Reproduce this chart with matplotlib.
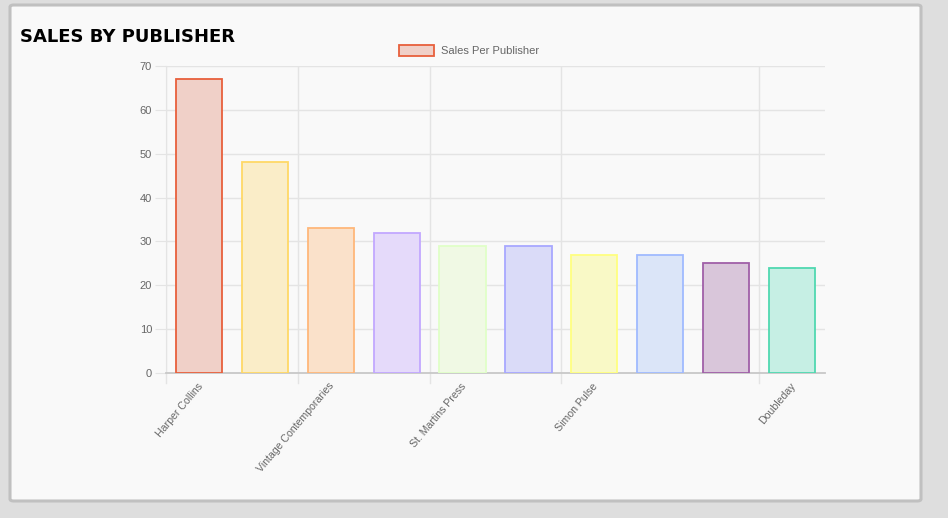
import matplotlib
matplotlib.use("Agg")
import matplotlib.pyplot as plt
from matplotlib.patches import FancyBboxPatch, Rectangle
import numpy as np

# data (only every other publisher name is printed)
publishers = ["Harper Collins", "", "Vintage Contemporaries", "", "St. Martins Press",
              "", "Simon Pulse", "", "", "Doubleday"]
sales = [67, 48, 33, 32, 29, 29, 27, 27, 25, 24]
shown_ticks = [0, 2, 4, 6, 9]
series_name = "Sales Per Publisher"

edge_colors = ["#e8603c", "#ffd866", "#ffb77a", "#c2a8ff", "#e0ffc8",
               "#a8a8ff", "#ffff80", "#a0baff", "#a060a8", "#50d8b0"]
fill_colors = ["#f0d0c8", "#faedc8", "#fae1ca", "#e5dafa", "#f0f9e4",
               "#dadbf8", "#f9f9c6", "#dbe5f8", "#d9c6da", "#c6efe4"]

W, H = 948, 518
fig = plt.figure(figsize=(W / 100, H / 100), dpi=100)
fig.patch.set_facecolor("#dedede")

# card behind the chart
card = FancyBboxPatch((10 / W, 1 - 501 / H), 911 / W, 496 / H,
                      boxstyle="round,pad=0,rounding_size=0.004",
                      transform=fig.transFigure, facecolor="#f9f9f9",
                      edgecolor="#c0c0c0", linewidth=2.2, zorder=-5)
fig.patches.append(card)

fig.text(20 / W, 1 - 42 / H, "SALES BY PUBLISHER", fontsize=13.0, fontweight="bold",
         color="black", family="DejaVu Sans", ha="left", va="baseline")

ax = fig.add_axes([166 / W, 1 - 373 / H, (825 - 166) / W, (373 - 66) / H])
ax.set_facecolor("none")

x = np.arange(len(sales))
ax.bar(x, sales, width=0.7, color=fill_colors, edgecolor=edge_colors,
       linewidth=1.3, zorder=3)

ax.set_xlim(-0.5, len(sales) - 0.5)
ax.set_ylim(0, 70)
ax.set_yticks(range(0, 71, 10))

# vertical grid lines sit at the left edge of each labelled category
for i in shown_ticks:
    ax.axvline(i - 0.5, color="#e4e4e4", linewidth=1, zorder=1)
    ax.plot([i - 0.5, i - 0.5], [0, -0.033], transform=ax.get_xaxis_transform(),
            color="#e4e4e4", linewidth=1, clip_on=False)
ax.yaxis.grid(True, color="#e4e4e4", linewidth=1, zorder=1)

# x labels written by hand so they can sit a little left of the bar centre
ax.set_xticks([])
for i in shown_ticks:
    ax.annotate(publishers[i], xy=(i, 0), xycoords=("data", "axes fraction"),
                xytext=(-2, -8), textcoords="offset pixels", rotation=50,
                ha="right", va="top", rotation_mode="anchor", fontsize=7.6,
                color="#666666", family="Liberation Sans", annotation_clip=False)

ax.tick_params(axis="y", length=8, color="#e4e4e4", labelsize=8,
               labelcolor="#666666", pad=2)
for lab in ax.get_yticklabels():
    lab.set_family("Liberation Sans")

for side in ["top", "right"]:
    ax.spines[side].set_visible(False)
ax.spines["left"].set_color("#e4e4e4")
ax.spines["bottom"].set_color("#c8c8c8")
ax.spines["bottom"].set_linewidth(1.3)

# legend drawn like the chart.js one
fig.patches.append(Rectangle((399 / W, 1 - 56 / H), 35 / W, 11 / H,
                             transform=fig.transFigure, facecolor=fill_colors[0],
                             edgecolor=edge_colors[0], linewidth=1.3))
fig.text(441 / W, 1 - 50.5 / H, series_name, fontsize=8, color="#666666",
         family="Liberation Sans", ha="left", va="center")

fig.savefig("out.png", dpi=100, facecolor=fig.get_facecolor())
